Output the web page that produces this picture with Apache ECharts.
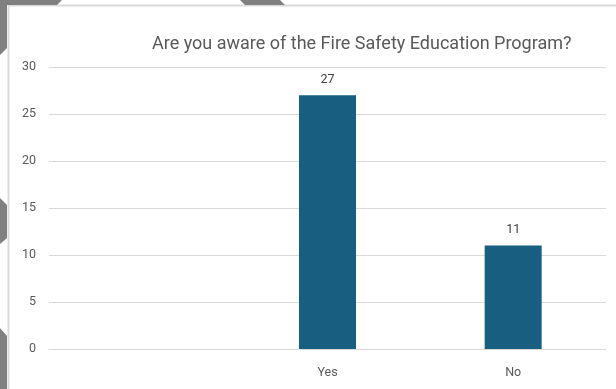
<!DOCTYPE html>
<html><head><meta charset="utf-8">
<script src="https://cdn.jsdelivr.net/npm/echarts@6/dist/echarts.min.js"></script>
<style>html,body{margin:0;padding:0;background:#fff}#c{width:616px;height:389px}</style>
</head><body><div id="c"></div>
<script>
const titleText = "Are you aware of the Fire Safety Education Program?";
const categories = ["", "Yes", "No"];
const values = [null, 27, 11];
const yMin = 0, yMax = 30, yStep = 5;

const chart = echarts.init(document.getElementById('c'), null, {renderer: 'canvas'});
const gray = '#808080';
chart.setOption({
  animation: false,
  backgroundColor: '#ffffff',
  title: {
    text: titleText, left: 147, top: 30,
    textStyle: {fontFamily: 'Roboto', fontSize: 18, fontWeight: 'normal', color: '#595959'}
  },
  grid: {left: 49, right: 10, top: 67, bottom: 40},
  xAxis: {
    type: 'category', data: categories,
    axisLine: {show: true, lineStyle: {color: '#d9d9d9', width: 1}},
    axisTick: {show: false},
    axisLabel: {color: '#595959', fontSize: 12.5, fontFamily: 'Roboto', margin: 17}
  },
  yAxis: {
    type: 'value', min: yMin, max: yMax, interval: yStep,
    axisLine: {show: false}, axisTick: {show: false},
    splitLine: {lineStyle: {color: '#d9d9d9', width: 1}},
    axisLabel: {color: '#595959', fontSize: 12.5, fontFamily: 'Roboto', margin: 13}
  },
  series: [{
    type: 'bar', data: values, barWidth: 57,
    itemStyle: {color: '#175e80'},
    label: {show: true, position: 'top', distance: 9, color: '#404040', fontSize: 12.5, fontFamily: 'Roboto'}
  }],
  graphic: [
    {type: 'line', shape: {x1: 8, y1: 5.5, x2: 616, y2: 5.5}, style: {stroke: '#d9d9d9', lineWidth: 2}, z: 10},
    {type: 'line', shape: {x1: 8.5, y1: 5, x2: 8.5, y2: 389}, style: {stroke: '#d9d9d9', lineWidth: 2}, z: 10},
    {type: 'polygon', shape: {points: [[0,0],[62,0],[57,5],[7,5],[7,48],[0,55]]}, style: {fill: gray}, z: 11},
    {type: 'polygon', shape: {points: [[240,0],[280,0],[285,5],[245,5]]}, style: {fill: gray}, z: 11},
    {type: 'polygon', shape: {points: [[0,198],[7,205],[7,238],[0,244]]}, style: {fill: gray}, z: 11},
    {type: 'polygon', shape: {points: [[0,328],[7,336],[7,389],[0,389]]}, style: {fill: gray}, z: 11}
  ]
});
</script></body></html>
